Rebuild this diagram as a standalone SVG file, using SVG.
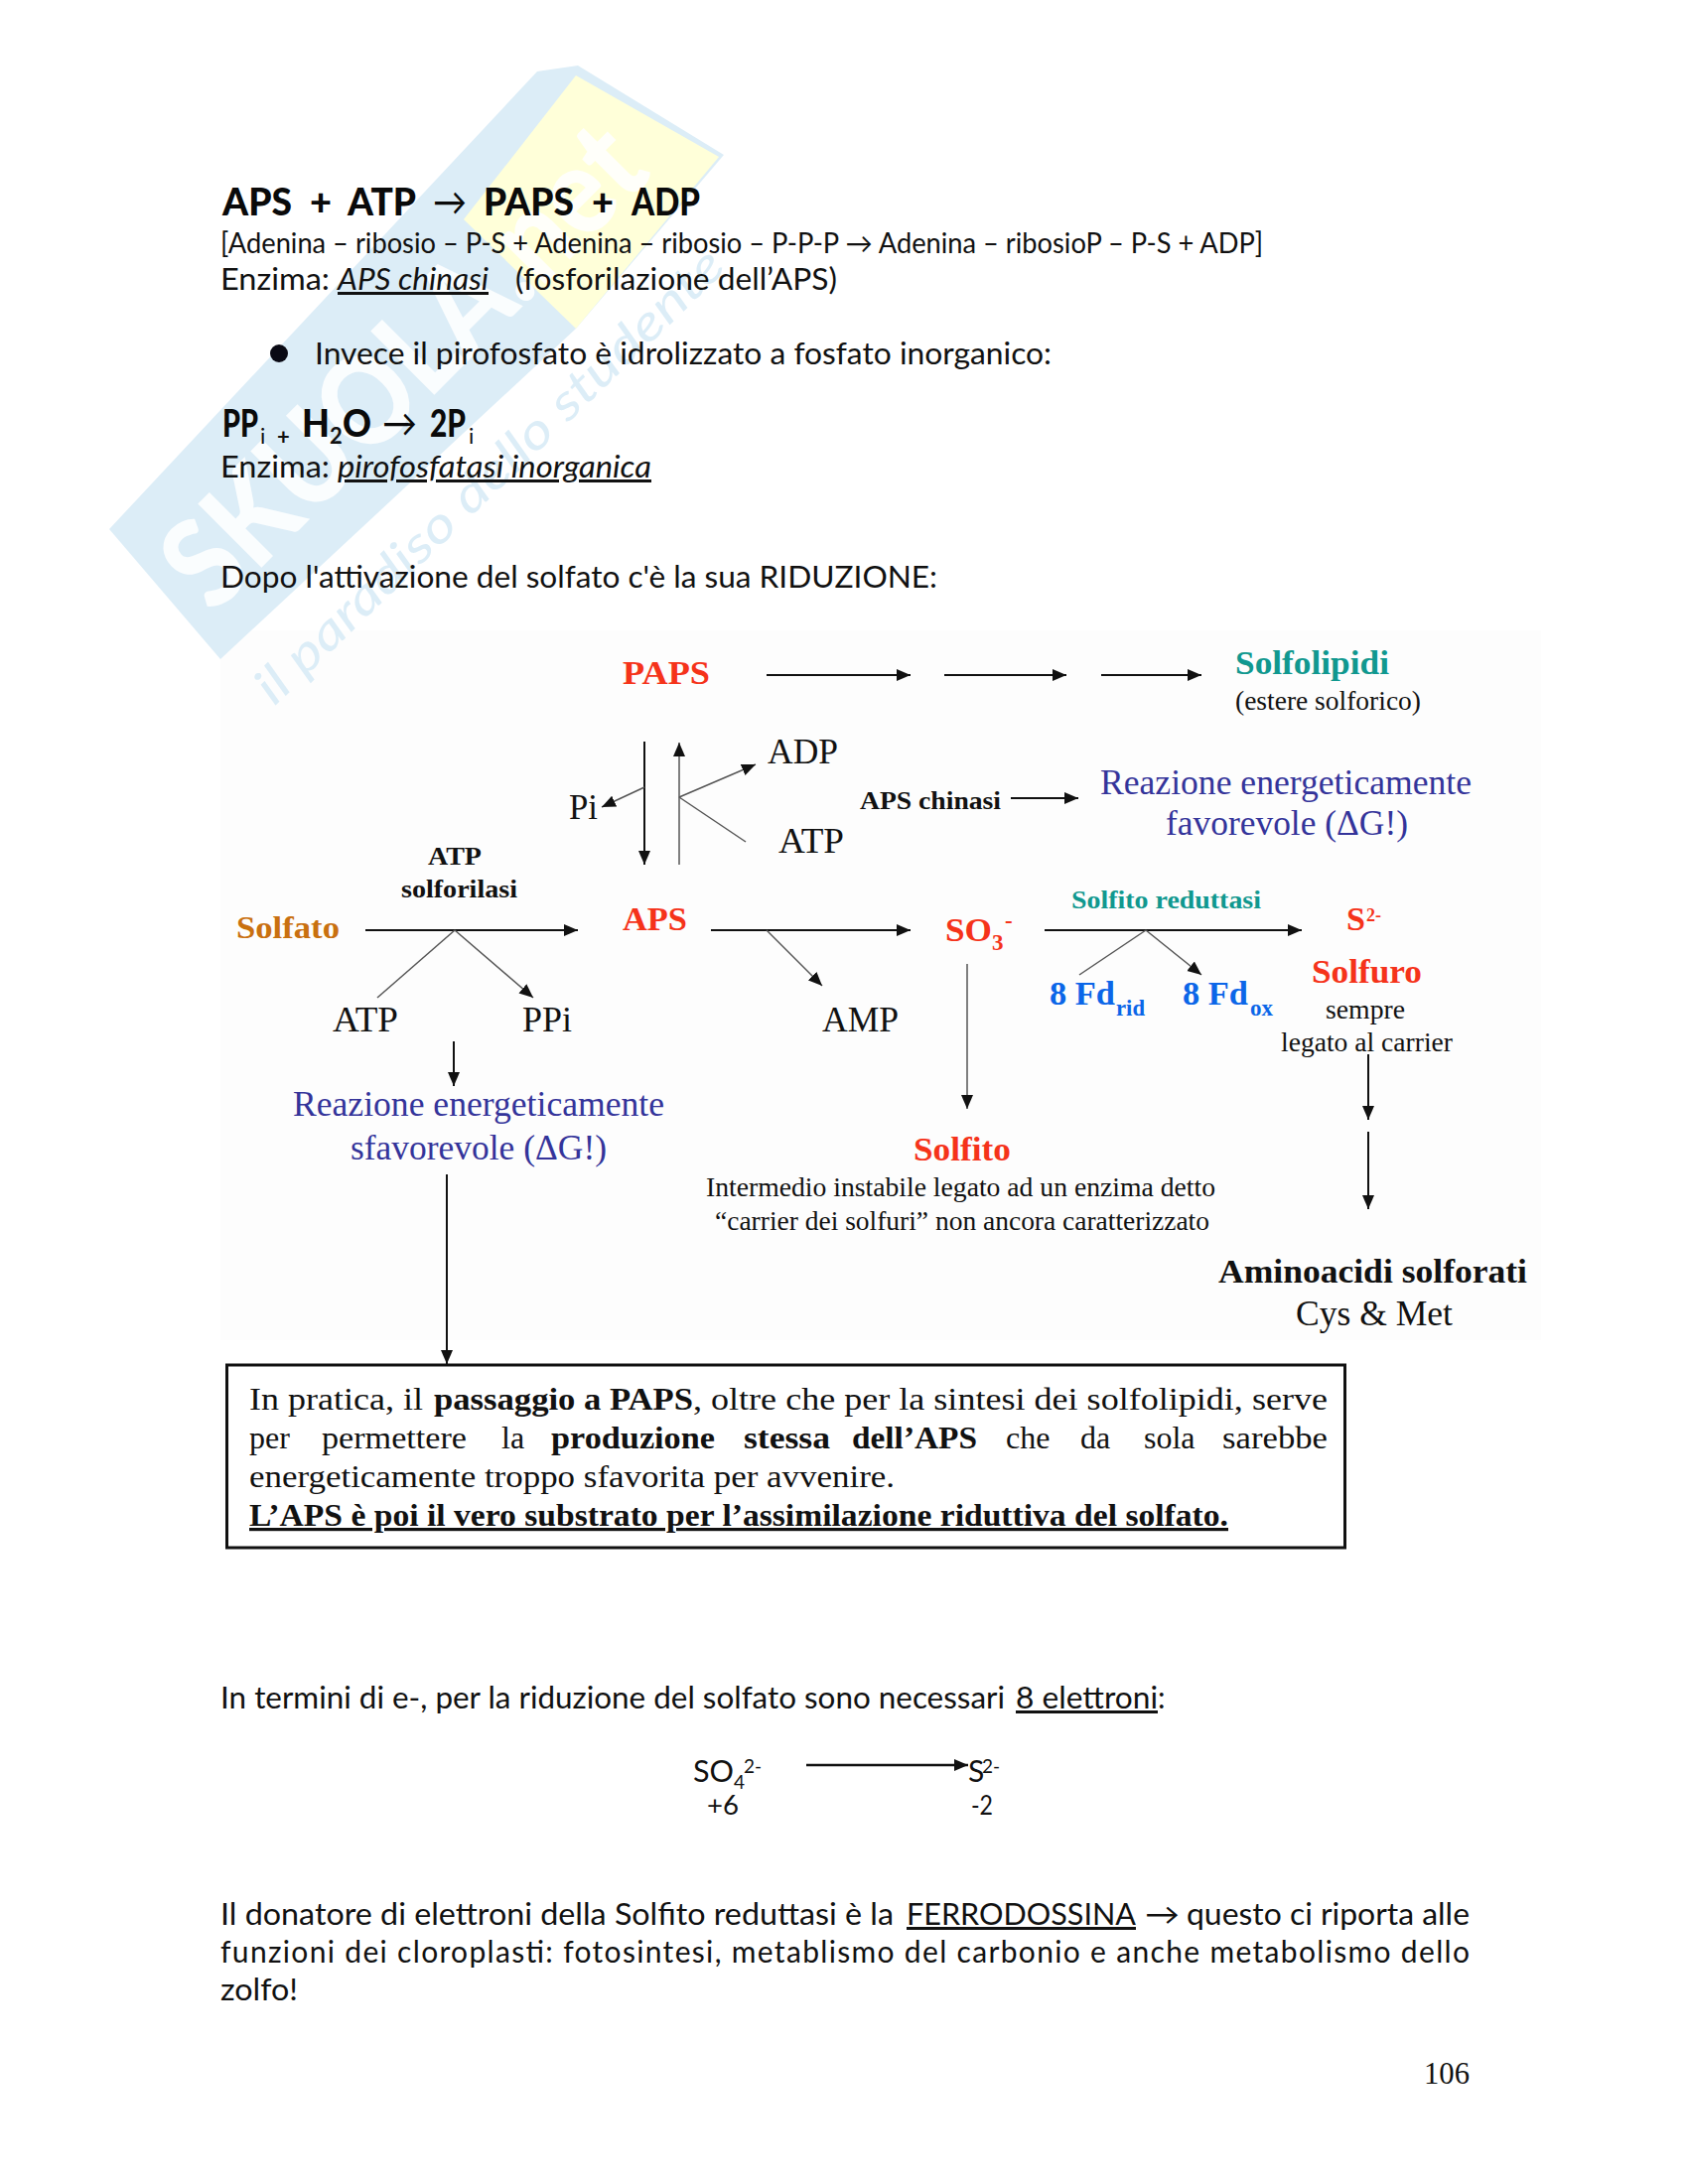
<svg xmlns="http://www.w3.org/2000/svg" width="1700" height="2200" viewBox="0 0 1700 2200">
<style>
text{white-space:pre}
.s{font-family:"Lato","DejaVu Sans",sans-serif;fill:#111}
.t{font-size:38px;font-weight:900;fill:#0a0a0a}
.b{font-size:30px}
.u{text-decoration:underline}
.i{font-style:italic}
.r{font-family:"Liberation Serif",serif;fill:#111}
.m{font-size:35px}
.k{font-size:27px}
.h{font-size:26px;font-weight:700}
.red{font-size:34px;font-weight:700;fill:#f5331a}
.tl{font-weight:700;fill:#10988f}
.bl{font-size:36px;fill:#34349a}
.fd{font-size:34px;font-weight:700;fill:#0b66e8}
.sb{font-size:23px}
.sp{font-size:18px}
.bx{font-size:32px}
.bo{font-weight:700}
.ln{stroke:#111;stroke-width:2;fill:none}
.th{stroke:#555;stroke-width:1.5;fill:none}
.ar{marker-end:url(#a)}
</style>
<defs><marker id="a" markerUnits="userSpaceOnUse" markerWidth="16" markerHeight="14" refX="14" refY="7" orient="auto"><path d="M0 1L14 7L0 13z" fill="#111"/></marker></defs>
<rect width="1700" height="2200" fill="#fff"/>
<rect id="diagram-bg" x="222" y="635" width="1330" height="715" fill="#fdfdfd"/>
<g id="watermark">
<polygon points="110,533 541,72 582,66 729,156 580,331 222,664" fill="#dcedf7"/>
<polygon points="580,76 724,158 580,331 467,221" fill="#ffffd9"/>
<text x="215" y="620" transform="rotate(-45 215 620)" textLength="627" lengthAdjust="spacingAndGlyphs" style="font-family:'Lato',sans-serif;font-size:125px;font-weight:900;fill:#fff;fill-opacity:.85">SKUOLA.net</text>
<text x="276" y="712" transform="rotate(-44 276 712)" textLength="635" lengthAdjust="spacingAndGlyphs" style="font-family:'Lato',sans-serif;font-size:50px;font-style:italic;fill:#dcedf7">il paradiso dello studente</text>
</g>
<g id="page-top">
<text class="s t" x="224" y="217" textLength="70" lengthAdjust="spacingAndGlyphs">APS</text>
<text class="s t" x="312" y="217">+</text>
<text class="s t" x="350" y="217" textLength="69" lengthAdjust="spacingAndGlyphs">ATP</text>
<text class="s t" x="436" y="217" textLength="34" lengthAdjust="spacingAndGlyphs" style="font-weight:400">→</text>
<text class="s t" x="487" y="217" textLength="91" lengthAdjust="spacingAndGlyphs">PAPS</text>
<text class="s t" x="596" y="217">+</text>
<text class="s t" x="636" y="217" textLength="69" lengthAdjust="spacingAndGlyphs">ADP</text>
<text class="s" x="222" y="255" font-size="28" textLength="1050" lengthAdjust="spacingAndGlyphs">[Adenina – ribosio – P-S + Adenina – ribosio – P-P-P → Adenina – ribosioP – P-S + ADP]</text>
<text class="s b" x="222" y="292" textLength="110" lengthAdjust="spacingAndGlyphs">Enzima:</text>
<text class="s b i u" x="340" y="292" textLength="152" lengthAdjust="spacingAndGlyphs">APS chinasi</text>
<text class="s b" x="519" y="292" textLength="324" lengthAdjust="spacingAndGlyphs">(fosforilazione dell’APS)</text>
<circle cx="281" cy="356" r="9" fill="#0a0a14"/>
<text class="s b" x="317" y="367" textLength="742" lengthAdjust="spacingAndGlyphs">Invece il pirofosfato è idrolizzato a fosfato inorganico:</text>
<text class="s t" x="224" y="440" textLength="36" lengthAdjust="spacingAndGlyphs">PP</text>
<text class="s" x="262" y="447" font-size="22">i</text>
<text class="s" x="279" y="448" font-size="22" font-weight="700">+</text>
<text class="s t" x="304" y="440" textLength="28" lengthAdjust="spacingAndGlyphs">H</text>
<text class="s" x="332" y="447" font-size="22" font-weight="700">2</text>
<text class="s t" x="345" y="440" textLength="29" lengthAdjust="spacingAndGlyphs">O</text>
<text class="s t" x="385" y="440" textLength="35" lengthAdjust="spacingAndGlyphs" style="font-weight:400">→</text>
<text class="s t" x="433" y="440" textLength="36" lengthAdjust="spacingAndGlyphs">2P</text>
<text class="s" x="472" y="447" font-size="22">i</text>
<text class="s b" x="222" y="481" textLength="110" lengthAdjust="spacingAndGlyphs">Enzima:</text>
<text class="s b i u" x="340" y="481" textLength="316" lengthAdjust="spacingAndGlyphs">pirofosfatasi inorganica</text>
<text class="s b" x="222" y="592" textLength="722" lengthAdjust="spacingAndGlyphs">Dopo l'attivazione del solfato c'è la sua RIDUZIONE:</text>
</g>
<g id="connectors">
<line class="ln ar" x1="772" y1="680" x2="917" y2="680"/>
<line class="ln ar" x1="951" y1="680" x2="1074" y2="680"/>
<line class="ln ar" x1="1109" y1="680" x2="1210" y2="680"/>
<line class="ln ar" x1="649" y1="747" x2="649" y2="871"/>
<line class="th ar" x1="684" y1="871" x2="684" y2="748"/>
<line class="th ar" x1="649" y1="793" x2="606" y2="813"/>
<line class="th ar" x1="684" y1="803" x2="761" y2="770"/>
<line class="th" x1="684" y1="803" x2="751" y2="848"/>
<line class="ln ar" x1="1018" y1="804" x2="1086" y2="804"/>
<line class="ln ar" x1="368" y1="937" x2="582" y2="937"/>
<line class="th" x1="458" y1="937" x2="380" y2="1005"/>
<line class="th ar" x1="458" y1="937" x2="537" y2="1005"/>
<line class="ln ar" x1="457" y1="1049" x2="457" y2="1094"/>
<line class="ln ar" x1="450" y1="1183" x2="450" y2="1374"/>
<line class="ln ar" x1="716" y1="937" x2="917" y2="937"/>
<line class="th ar" x1="772" y1="937" x2="828" y2="993"/>
<line class="ln ar" x1="1052" y1="937" x2="1311" y2="937"/>
<line class="th" x1="1154" y1="937" x2="1087" y2="982"/>
<line class="th ar" x1="1154" y1="937" x2="1210" y2="982"/>
<line class="th ar" x1="974" y1="971" x2="974" y2="1117"/>
<line class="ln ar" x1="1378" y1="1062" x2="1378" y2="1128"/>
<line class="ln ar" x1="1378" y1="1140" x2="1378" y2="1218"/>
<line x1="812" y1="1778" x2="975" y2="1778" stroke="#111" stroke-width="2.500" marker-end="url(#a)"/>
</g>
<g id="node-paps"><text class="r red" x="627" y="689" textLength="88" lengthAdjust="spacingAndGlyphs">PAPS</text></g>
<g id="node-solfolipidi"><text class="r tl" x="1244" y="679" font-size="34" textLength="155" lengthAdjust="spacingAndGlyphs">Solfolipidi</text><text class="r k" x="1244" y="715" textLength="187" lengthAdjust="spacingAndGlyphs">(estere solforico)</text></g>
<g id="node-pi"><text class="r m" x="573" y="825" textLength="29" lengthAdjust="spacingAndGlyphs">Pi</text></g>
<g id="node-adp"><text class="r m" x="773" y="769" textLength="71" lengthAdjust="spacingAndGlyphs">ADP</text></g>
<g id="node-atp1"><text class="r m" x="784" y="859" textLength="66" lengthAdjust="spacingAndGlyphs">ATP</text></g>
<g id="node-aps-chinasi"><text class="r h" x="866" y="815" textLength="142" lengthAdjust="spacingAndGlyphs">APS chinasi</text></g>
<g id="node-favorevole"><text class="r bl" x="1108" y="800" textLength="374" lengthAdjust="spacingAndGlyphs">Reazione energeticamente</text><text class="r bl" x="1174" y="841" textLength="244" lengthAdjust="spacingAndGlyphs">favorevole (ΔG!)</text></g>
<g id="node-atp-solforilasi"><text class="r h" x="431" y="871" textLength="54" lengthAdjust="spacingAndGlyphs">ATP</text><text class="r h" x="404" y="904" textLength="117" lengthAdjust="spacingAndGlyphs">solforilasi</text></g>
<g id="node-solfato"><text class="r" x="238" y="945" font-size="32" font-weight="700" style="fill:#c9700f" textLength="104" lengthAdjust="spacingAndGlyphs">Solfato</text></g>
<g id="node-aps"><text class="r red" x="627" y="937" textLength="65" lengthAdjust="spacingAndGlyphs">APS</text></g>
<g id="node-atp2"><text class="r m" x="335" y="1039" textLength="66" lengthAdjust="spacingAndGlyphs">ATP</text></g>
<g id="node-ppi"><text class="r m" x="526" y="1039" textLength="50" lengthAdjust="spacingAndGlyphs">PPi</text></g>
<g id="node-amp"><text class="r m" x="828" y="1039" textLength="77" lengthAdjust="spacingAndGlyphs">AMP</text></g>
<g id="node-sfavorevole"><text class="r bl" x="295" y="1124" textLength="374" lengthAdjust="spacingAndGlyphs">Reazione energeticamente</text><text class="r bl" x="353" y="1168" textLength="258" lengthAdjust="spacingAndGlyphs">sfavorevole (ΔG!)</text></g>
<g id="node-so3"><text class="r" x="952" y="948" font-size="34" style="fill:#f5331a;font-weight:700" textLength="47" lengthAdjust="spacingAndGlyphs">SO</text><text class="r" x="999" y="957" font-size="23" font-weight="700" style="fill:#f5331a">3</text><text class="r" x="1012" y="935" font-size="23" font-weight="700" style="fill:#f5331a">-</text></g>
<g id="node-solfito-reduttasi"><text class="r tl" x="1079" y="915" font-size="26" textLength="191" lengthAdjust="spacingAndGlyphs">Solfito reduttasi</text></g>
<g id="node-fdrid"><text class="r fd" x="1057" y="1012" textLength="66" lengthAdjust="spacingAndGlyphs">8 Fd</text><text class="r fd sb" x="1124" y="1023" textLength="29" lengthAdjust="spacingAndGlyphs">rid</text></g>
<g id="node-fdox"><text class="r fd" x="1191" y="1012" textLength="66" lengthAdjust="spacingAndGlyphs">8 Fd</text><text class="r fd sb" x="1259" y="1023" textLength="23" lengthAdjust="spacingAndGlyphs">ox</text></g>
<g id="node-solfuro"><text class="r red" x="1356" y="937" textLength="19" lengthAdjust="spacingAndGlyphs">S</text><text class="r red sp" x="1376" y="928">2-</text><text class="r red" x="1321" y="990" textLength="111" lengthAdjust="spacingAndGlyphs">Solfuro</text><text class="r k" x="1335" y="1026" textLength="80" lengthAdjust="spacingAndGlyphs">sempre</text><text class="r k" x="1290" y="1059" textLength="173" lengthAdjust="spacingAndGlyphs">legato al carrier</text></g>
<g id="node-solfito"><text class="r red" x="920" y="1169" textLength="98" lengthAdjust="spacingAndGlyphs">Solfito</text><text class="r k" x="711" y="1205" textLength="513" lengthAdjust="spacingAndGlyphs">Intermedio instabile legato ad un enzima detto</text><text class="r k" x="720" y="1239" textLength="498" lengthAdjust="spacingAndGlyphs">“carrier dei solfuri” non ancora caratterizzato</text></g>
<g id="node-aminoacidi"><text class="r" x="1227" y="1292" font-size="33" font-weight="700" textLength="311" lengthAdjust="spacingAndGlyphs">Aminoacidi solforati</text><text class="r m" x="1305" y="1335" textLength="158" lengthAdjust="spacingAndGlyphs">Cys &amp; Met</text></g>
<g id="node-box">
<rect x="228.500" y="1375" width="1126" height="184" fill="#fff" stroke="#111" stroke-width="3"/>
<text class="r bx" x="251" y="1420" textLength="175" lengthAdjust="spacingAndGlyphs">In pratica, il</text>
<text class="r bx bo" x="437" y="1420" textLength="261" lengthAdjust="spacingAndGlyphs">passaggio a PAPS</text>
<text class="r bx" x="698" y="1420" textLength="639" lengthAdjust="spacingAndGlyphs">, oltre che per la sintesi dei solfolipidi, serve</text>
<text class="r bx" x="251" y="1459">per</text>
<text class="r bx" x="324" y="1459" textLength="146" lengthAdjust="spacingAndGlyphs">permettere</text>
<text class="r bx" x="505" y="1459">la</text>
<text class="r bx bo" x="555" y="1459" textLength="165" lengthAdjust="spacingAndGlyphs">produzione</text>
<text class="r bx bo" x="749" y="1459" textLength="87" lengthAdjust="spacingAndGlyphs">stessa</text>
<text class="r bx bo" x="858" y="1459" textLength="126" lengthAdjust="spacingAndGlyphs">dell’APS</text>
<text class="r bx" x="1013" y="1459">che</text>
<text class="r bx" x="1088" y="1459">da</text>
<text class="r bx" x="1152" y="1459">sola</text>
<text class="r bx" x="1231" y="1459" textLength="106" lengthAdjust="spacingAndGlyphs">sarebbe</text>
<text class="r bx" x="251" y="1498" textLength="650" lengthAdjust="spacingAndGlyphs">energeticamente troppo sfavorita per avvenire.</text>
<text class="r bx bo u" x="251" y="1537" textLength="986" lengthAdjust="spacingAndGlyphs">L’APS è poi il vero substrato per l’assimilazione riduttiva del solfato.</text>
</g>
<g id="page-bottom">
<text class="s b" x="222" y="1721" textLength="790" lengthAdjust="spacingAndGlyphs">In termini di e-, per la riduzione del solfato sono necessari</text>
<text class="s b u" x="1023" y="1721" textLength="143" lengthAdjust="spacingAndGlyphs">8 elettroni</text>
<text class="s b" x="1166" y="1721">:</text>
<text class="s" x="698" y="1795" font-size="30" textLength="41" lengthAdjust="spacingAndGlyphs">SO</text>
<text class="s" x="739" y="1802" font-size="19">4</text>
<text class="s" x="749" y="1786" font-size="19">2-</text>
<text class="s" x="975" y="1795" font-size="30">S</text>
<text class="s" x="989" y="1786" font-size="19">2-</text>
<text class="s" x="712" y="1828" font-size="26" textLength="32" lengthAdjust="spacingAndGlyphs">+6</text>
<text class="s" x="978" y="1828" font-size="26" textLength="22" lengthAdjust="spacingAndGlyphs">-2</text>
<text class="s b" x="222" y="1939" textLength="678" lengthAdjust="spacingAndGlyphs">Il donatore di elettroni della Solfito reduttasi è la</text>
<text class="s b u" x="913" y="1939" textLength="231" lengthAdjust="spacingAndGlyphs">FERRODOSSINA</text>
<text class="s b" x="1153" y="1939" textLength="35" lengthAdjust="spacingAndGlyphs">→</text>
<text class="s b" x="1195" y="1939" textLength="285" lengthAdjust="spacingAndGlyphs">questo ci riporta alle</text>
<text class="s b" x="222" y="1977" textLength="1258" lengthAdjust="spacing">funzioni dei cloroplasti: fotosintesi, metablismo del carbonio e anche metabolismo dello</text>
<text class="s b" x="222" y="2015" textLength="78" lengthAdjust="spacingAndGlyphs">zolfo!</text>
<text class="r" x="1434" y="2099" font-size="32" textLength="46" lengthAdjust="spacingAndGlyphs">106</text>
</g>
</svg>
